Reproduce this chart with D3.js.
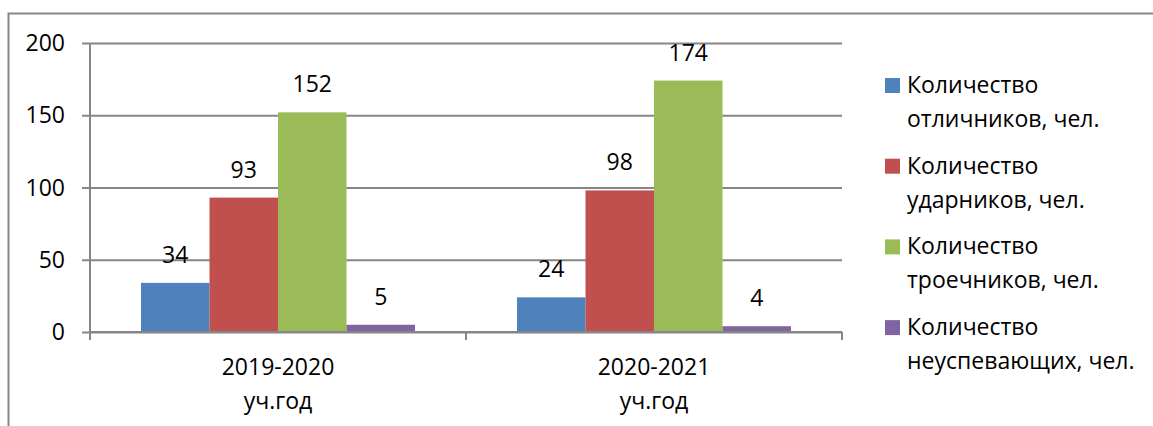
<!DOCTYPE html>
<html>
<head>
<meta charset="utf-8">
<script src="https://cdn.jsdelivr.net/npm/d3@7"></script>
<style>
  body { margin: 0; background: #fff; }
  text { font-family: "Open Sans", "Noto Sans", sans-serif; fill: #000; }
</style>
</head>
<body>
<div id="chart"></div>
<script>
// Data
var categories = ["2019-2020 уч.год", "2020-2021 уч.год"];
var seriesNames = [
    "Количество отличников, чел.",
    "Количество ударников, чел.",
    "Количество троечников, чел.",
    "Количество неуспевающих, чел."
];
var seriesValues = [
    [34, 24],
    [93, 98],
    [152, 174],
    [5, 4]
];
var yTicks = [0, 50, 100, 150, 200];
var colors = ["#4F81BD", "#C0504D", "#9BBB59", "#8064A2"];

var svgWidth = 1153;
var svgHeight = 426;

var margin = { top: 43, left: 90, right: 311, bottom: 94 };
var width = svgWidth - margin.left - margin.right;
var height = svgHeight - margin.top - margin.bottom;

var svg = d3.select("#chart")
    .append("svg")
    .attr("width", svgWidth)
    .attr("height", svgHeight);

// outer chart border (cropped on the right and bottom)
svg.append("rect")
    .attr("x", 8.5)
    .attr("y", 13.5)
    .attr("width", 1200)
    .attr("height", 500)
    .attr("fill", "none")
    .attr("stroke", "#868686")
    .attr("stroke-width", 2);

var chartGroup = svg.append("g")
    .attr("transform", `translate(${margin.left}, ${margin.top})`);

// scales
var x0 = d3.scaleBand().domain(categories).range([0, width]).padding(0);
var x1 = d3.scaleBand().domain(d3.range(seriesNames.length))
    .range([0, x0.bandwidth()])
    .paddingInner(0)
    .paddingOuter(0.745);
var y = d3.scaleLinear().domain([0, 200]).range([height, 0]);

// gridlines
chartGroup.append("g")
    .attr("class", "grid")
    .call(d3.axisLeft(y).tickValues(yTicks).tickSize(-width).tickFormat(""))
    .call(g => g.select(".domain").remove())
    .call(g => g.selectAll("line").attr("stroke", "#868686").attr("stroke-width", 2));

// left axis
chartGroup.append("g")
    .call(d3.axisLeft(y).tickValues(yTicks).tickSize(8).tickPadding(17))
    .call(g => g.select(".domain").remove())
    .call(g => g.selectAll("line").attr("stroke", "#868686").attr("stroke-width", 2))
    .call(g => g.selectAll("text")
        .attr("font-size", "23px")
        .attr("font-family", "'Open Sans', sans-serif")
        .attr("fill", "#000")
        .attr("dy", "0.33em"));

chartGroup.append("line")
    .attr("x1", 0).attr("x2", 0)
    .attr("y1", 0).attr("y2", height + 8)
    .attr("stroke", "#868686").attr("stroke-width", 2);

// bars
var groups = chartGroup.selectAll(".cat")
    .data(categories)
    .enter()
    .append("g")
    .attr("transform", d => `translate(${x0(d)}, 0)`);

groups.each(function (cat, ci) {
    var g = d3.select(this);
    seriesNames.forEach(function (s, si) {
        var v = seriesValues[si][ci];
        g.append("rect")
            .attr("x", x1(si))
            .attr("y", y(v))
            .attr("width", x1.bandwidth())
            .attr("height", y(0) - y(v))
            .attr("fill", colors[si]);
        g.append("text")
            .attr("x", x1(si) + x1.bandwidth() / 2)
            .attr("y", y(v) - 20)
            .attr("text-anchor", "middle")
            .attr("font-size", "23px")
            .text(v);
    });
});

// bottom axis
chartGroup.append("line")
    .attr("x1", 0).attr("x2", width)
    .attr("y1", height).attr("y2", height)
    .attr("stroke", "#868686").attr("stroke-width", 2);

var boundaries = categories.map(c => x0(c)).concat([x0(categories[categories.length - 1]) + x0.bandwidth()]);
chartGroup.selectAll(".xtick")
    .data(boundaries)
    .enter()
    .append("line")
    .attr("x1", d => d).attr("x2", d => d)
    .attr("y1", height).attr("y2", height + 8)
    .attr("stroke", "#868686").attr("stroke-width", 2);

var catLabels = chartGroup.selectAll(".catlabel")
    .data(categories)
    .enter()
    .append("text")
    .attr("text-anchor", "middle")
    .attr("font-size", "23px");
catLabels.each(function (d) {
    var parts = d.split(" ");
    var t = d3.select(this);
    parts.forEach(function (p, i) {
        t.append("tspan")
            .attr("x", x0(d) + x0.bandwidth() / 2)
            .attr("y", height + 43 + i * 34)
            .text(p);
    });
});

// legend
var legend = svg.append("g")
    .attr("transform", "translate(885, 93)");

seriesNames.forEach(function (name, i) {
    var item = legend.append("g")
        .attr("transform", `translate(0, ${i * 80.7})`);
    item.append("rect")
        .attr("x", 0).attr("y", -15)
        .attr("width", 15).attr("height", 15)
        .attr("fill", colors[i]);
    var words = name.split(" ");
    var lines = [words[0], words.slice(1).join(" ")];
    var t = item.append("text").attr("font-size", "23px");
    lines.forEach(function (l, j) {
        t.append("tspan")
            .attr("x", 22)
            .attr("y", j * 34)
            .text(l);
    });
});
</script>
</body>
</html>
